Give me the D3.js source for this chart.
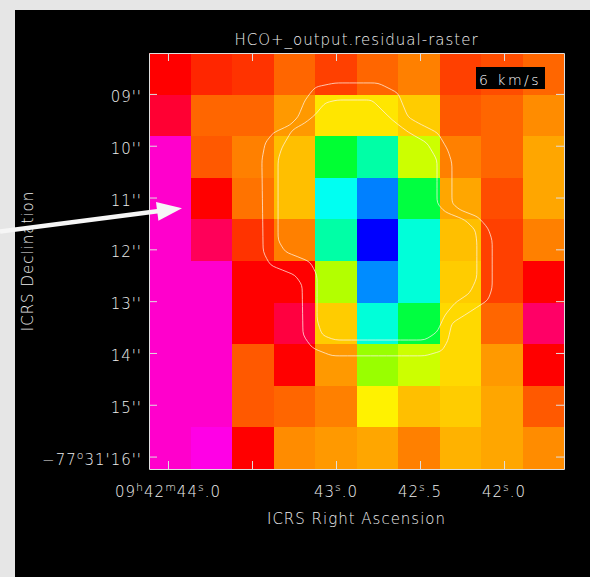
<!DOCTYPE html>
<html>
<head>
<meta charset="utf-8">
<script src="https://cdn.jsdelivr.net/npm/d3@7"></script>
<style>
    body { margin: 0; background: #e6e6e6; }
    svg { display: block; }
    text { font-family: "DejaVu Sans", sans-serif; font-weight: 200; fill: #efefef; letter-spacing: 1px; }
    .axis path, .axis line { stroke: #dedede; }
</style>
</head>
<body>
<svg width="590" height="577"></svg>
<script>
// residual raster, one row per declination pixel (top -> bottom),
// value 0 = lowest (blue) ... 100 = highest (magenta)
var row0 = [80, 77, 76, 72, 75, 72, 70, 75, 74, 72];
var row1 = [84, 72, 72, 68, 62, 62, 64, 73, 72, 69];
var row2 = [96, 73, 70, 65, 36, 27, 56, 70, 72, 67];
var row3 = [96, 80, 71, 65, 21, 10, 35, 67, 74, 67];
var row4 = [96, 87, 76, 70, 27, 0, 23, 65, 75, 70];
var row5 = [96, 96, 80, 80, 54, 11, 23, 64, 75, 80];
var row6 = [96, 96, 80, 85, 64, 23, 35, 63, 72, 88];
var row7 = [96, 96, 73, 80, 68, 52, 56, 63, 68, 80];
var row8 = [96, 96, 73, 72, 70, 61, 65, 64, 67, 73];
var row9 = [96, 98, 80, 69, 68, 67, 70, 66, 67, 69];
var raster = [row0, row1, row2, row3, row4, row5, row6, row7, row8, row9];

// world coordinates of the raster edges
var raEdges = [44.113, 41.643];   // seconds of RA, 09h42m
var decEdges = [8.21, 16.24];     // arcsec, -77d31'

var raTicks = [44.0, 43.5, 43.0, 42.5, 42.0];
var raLabels = [["09", "h", "42", "m", "44", "s", ".0"], [], ["43", "s", ".0"], ["42", "s", ".5"], ["42", "s", ".0"]];
var decTicks = [9, 10, 11, 12, 13, 14, 15, 16];
var decLabels = [["09''"], ["10''"], ["11''"], ["12''"], ["13''"], ["14''"], ["15''"], ["\u221277", "o", "31'16''"]];

// contour levels, corner outline in raster pixel units [col, row]
var contourOuter = [[4.48, 0.72], [5.52, 0.72], [6.00, 0.96], [6.24, 1.54], [6.48, 1.68], [6.96, 1.92], [7.20, 2.33],
    [7.30, 2.64], [7.30, 3.61], [7.49, 3.77], [7.93, 3.94], [8.17, 4.21], [8.27, 4.50], [8.27, 5.65], [8.17, 5.94],
    [7.61, 6.30], [7.30, 6.49], [7.20, 6.92], [7.06, 7.16], [6.65, 7.28], [4.41, 7.28], [3.93, 7.09], [3.71, 6.78],
    [3.69, 5.58], [3.52, 5.34], [2.92, 5.10], [2.75, 4.78], [2.72, 2.57], [2.80, 2.16], [2.99, 1.92], [3.40, 1.73],
    [3.59, 1.54], [3.76, 1.13], [4.00, 0.82]];
var contourInner = [[4.53, 1.13], [5.37, 1.13], [5.86, 1.61], [6.24, 1.90], [6.70, 2.16], [6.94, 2.57], [6.94, 3.61],
    [7.13, 3.82], [7.61, 4.01], [7.86, 4.25], [7.90, 4.54], [7.90, 5.41], [7.73, 5.77], [7.37, 6.01], [7.13, 6.30],
    [6.94, 6.71], [6.65, 6.90], [4.48, 6.90], [4.17, 6.78], [4.05, 6.42], [4.05, 5.34], [3.88, 5.02], [3.59, 4.90],
    [3.28, 4.78], [3.11, 4.50], [3.11, 2.57], [3.20, 2.28], [3.45, 1.85], [3.76, 1.68], [4.00, 1.49], [4.24, 1.20]];

// arrow annotation, raster pixel units [col, row]
var arrowFrom = [-3.59, 4.29];
var arrowTo = [0.795, 3.73];

var titleText = "HCO+_output.residual-raster";
var channelText = "6 km/s";

var svg = d3.select("svg");
var plotL = 149, plotR = 564, plotT = 53, plotB = 469;

var nRows = raster.length, nCols = raster[0].length;
var gx = d3.scaleLinear().domain([0, nCols]).range([plotL, plotR]);
var gy = d3.scaleLinear().domain([0, nRows]).range([plotT, plotB]);
var raScale = d3.scaleLinear().domain(raEdges).range([plotL, plotR]);
var decScale = d3.scaleLinear().domain(decEdges).range([plotT, plotB]);

var hue = d3.scaleLinear().domain([0, 100]).range([240, -60]);
function colour(v) { return d3.hsl(hue(v), 1, 0.5).toString(); }

svg.append("rect").attr("x", 15).attr("y", 10).attr("width", 575).attr("height", 567).attr("fill", "#000");

var cells = [];
raster.forEach(function (r, j) {
    r.forEach(function (v, i) { cells.push({ col: i, row: j, value: v }); });
});

svg.append("g").selectAll("rect").data(cells).join("rect")
    .attr("x", function (d) { return gx(d.col); })
    .attr("y", function (d) { return gy(d.row); })
    .attr("width", function (d) { return gx(d.col + 1) - gx(d.col); })
    .attr("height", function (d) { return gy(d.row + 1) - gy(d.row); })
    .attr("fill", function (d) { return colour(d.value); })
    .attr("shape-rendering", "crispEdges");

// split long edges so the b-spline keeps straight runs straight
function densify(pts, step) {
    var out = [];
    pts.forEach(function (p, i) {
        var q = pts[(i + 1) % pts.length];
        var n = Math.max(1, Math.ceil(Math.hypot(q[0] - p[0], q[1] - p[1]) / step));
        for (var k = 0; k < n; k++) {
            out.push([p[0] + (q[0] - p[0]) * k / n, p[1] + (q[1] - p[1]) * k / n]);
        }
    });
    return out;
}

var contourLine = d3.line()
    .x(function (d) { return gx(d[0]); })
    .y(function (d) { return gy(d[1]); })
    .curve(d3.curveBasisClosed);

svg.append("g").selectAll("path").data([contourOuter, contourInner]).join("path")
    .attr("d", function (d) { return contourLine(densify(d, 0.2)); })
    .attr("fill", "none")
    .attr("stroke", "#fff4ea")
    .attr("stroke-opacity", 0.72)
    .attr("stroke-width", 1);

// frame + inward ticks on all four sides
function noLabel() { return ""; }
svg.append("g").attr("class", "axis").attr("transform", "translate(0," + plotT + ")")
    .call(d3.axisTop(raScale).tickValues(raTicks).tickSizeInner(-8).tickSizeOuter(0).tickFormat(noLabel));
svg.append("g").attr("class", "axis").attr("transform", "translate(0," + plotB + ")")
    .call(d3.axisBottom(raScale).tickValues(raTicks).tickSizeInner(-8).tickSizeOuter(0).tickFormat(noLabel));
svg.append("g").attr("class", "axis").attr("transform", "translate(" + plotL + ",0)")
    .call(d3.axisLeft(decScale).tickValues(decTicks).tickSizeInner(-8).tickSizeOuter(0).tickFormat(noLabel));
svg.append("g").attr("class", "axis").attr("transform", "translate(" + plotR + ",0)")
    .call(d3.axisRight(decScale).tickValues(decTicks).tickSizeInner(-8).tickSizeOuter(0).tickFormat(noLabel));

function writeParts(sel, parts) {
    parts.forEach(function (p, i) {
        var sup = i % 2 === 1;
        sel.append("tspan")
            .attr("font-size", sup ? 11 : 15)
            .attr("dy", sup ? -6 : (i > 0 ? 6 : 0))
            .text(p);
    });
}

svg.append("g").selectAll("text").data(decTicks).join("text")
    .attr("x", plotL - 7)
    .attr("y", function (d) { return decScale(d) + 8; })
    .attr("text-anchor", "end")
    .each(function (d, i) { writeParts(d3.select(this), decLabels[i]); });

svg.append("g").selectAll("text").data(raTicks).join("text")
    .attr("x", function (d) { return raScale(d); })
    .attr("y", 497)
    .attr("text-anchor", "middle")
    .each(function (d, i) { writeParts(d3.select(this), raLabels[i]); });

svg.append("text").attr("x", (plotL + plotR) / 2).attr("y", 45).attr("text-anchor", "middle")
    .attr("font-size", 15).text(titleText);
svg.append("text").attr("x", (plotL + plotR) / 2).attr("y", 524).attr("text-anchor", "middle")
    .attr("font-size", 15).text("ICRS Right Ascension");
svg.append("text").attr("transform", "translate(33," + ((plotT + plotB) / 2) + ") rotate(-90)")
    .attr("text-anchor", "middle").attr("font-size", 15).text("ICRS Declination");

// channel label box
svg.append("rect").attr("x", plotR - 88).attr("y", plotT + 14).attr("width", 69).attr("height", 22).attr("fill", "#000");
svg.append("text").attr("x", plotR - 85).attr("y", plotT + 32).attr("font-size", 14)
    .style("letter-spacing", "2.5px").style("fill", "#ffffff").text(channelText);

// arrow
var ax0 = gx(arrowFrom[0]), ay0 = gy(arrowFrom[1]);
var ax1 = gx(arrowTo[0]), ay1 = gy(arrowTo[1]);
var len = Math.hypot(ax1 - ax0, ay1 - ay0);
var ux = (ax1 - ax0) / len, uy = (ay1 - ay0) / len;
var headLen = 25, headHalf = 9.5;
var bx = ax1 - ux * headLen, by = ay1 - uy * headLen;
svg.append("line").attr("x1", ax0).attr("y1", ay0).attr("x2", bx + ux * 2).attr("y2", by + uy * 2)
    .attr("stroke", "#f6f6f6").attr("stroke-width", 4.5);
svg.append("path")
    .attr("d", "M" + ax1 + "," + ay1 + "L" + (bx - uy * headHalf) + "," + (by + ux * headHalf) +
        "L" + (bx + uy * headHalf) + "," + (by - ux * headHalf) + "Z")
    .attr("fill", "#f6f6f6");
</script>
</body>
</html>
